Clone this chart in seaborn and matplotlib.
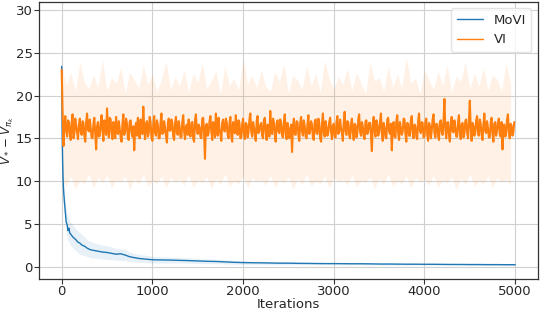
import numpy as np
import pandas as pd
import matplotlib
matplotlib.use("Agg")
import matplotlib.pyplot as plt
import seaborn as sns

# ---------------- data ----------------
movi_iters = ([0, 5, 10, 15, 20, 30, 40, 50, 60, 70, 80, 90, 100, 120, 140, 160, 180, 200,
               225, 250, 275, 300, 325, 350, 375, 400, 450, 500, 550, 600, 650, 700, 750,
               800, 850, 900, 950, 1000] + list(range(1100, 5001, 100)))
movi_mean = [23.4, 16.0, 12.5, 10.4, 9.0, 7.6, 6.4, 5.2, 4.9, 4.2, 4.5, 3.9, 3.8, 3.5, 3.3,
             3.1, 2.85, 2.75, 2.5, 2.4, 2.2, 2.05, 1.95, 1.9, 1.85, 1.8, 1.7, 1.65, 1.55, 1.45,
             1.5, 1.35, 1.15, 1.05, 0.95, 0.9, 0.85, 0.8,
             0.78, 0.76, 0.73, 0.70, 0.66, 0.62, 0.60, 0.55, 0.50, 0.47,
             0.45, 0.44, 0.42, 0.40, 0.40, 0.38, 0.37, 0.36, 0.35, 0.35,
             0.34, 0.33, 0.33, 0.32, 0.30, 0.30, 0.29, 0.28, 0.28, 0.27,
             0.27, 0.26, 0.25, 0.25, 0.24, 0.24, 0.23, 0.23, 0.22, 0.22]
movi_upper = [23.4, 17.5, 14.0, 12.0, 10.5, 9.0, 7.8, 6.8, 6.3, 5.8, 5.7, 5.3, 5.2, 4.9, 4.6,
              4.4, 4.1, 4.0, 3.7, 3.5, 3.2, 3.0, 2.9, 2.8, 2.7, 2.65, 2.5, 2.45, 2.3, 2.15,
              2.1, 2.0, 1.7, 1.55, 1.45, 1.35, 1.3, 1.2,
              1.15, 1.10, 1.05, 1.00, 0.95, 0.90, 0.85, 0.80, 0.72, 0.67,
              0.64, 0.62, 0.60, 0.57, 0.56, 0.53, 0.51, 0.50, 0.48, 0.47,
              0.46, 0.45, 0.44, 0.43, 0.41, 0.41, 0.40, 0.39, 0.38, 0.37,
              0.37, 0.36, 0.35, 0.35, 0.34, 0.34, 0.33, 0.33, 0.32, 0.32]
movi_lower = [23.4, 14.5, 11.0, 8.8, 7.5, 6.2, 5.0, 3.8, 3.5, 2.9, 3.1, 2.6, 2.5, 2.2, 2.0,
              1.85, 1.6, 1.5, 1.35, 1.3, 1.2, 1.1, 1.0, 1.0, 0.98, 0.95, 0.9, 0.85, 0.8, 0.75,
              0.7, 0.7, 0.6, 0.55, 0.5, 0.48, 0.45, 0.42,
              0.41, 0.42, 0.43, 0.40, 0.37, 0.34, 0.35, 0.30, 0.28, 0.27,
              0.26, 0.26, 0.24, 0.23, 0.24, 0.23, 0.23, 0.22, 0.22, 0.23,
              0.22, 0.21, 0.22, 0.21, 0.19, 0.19, 0.18, 0.17, 0.18, 0.17,
              0.17, 0.16, 0.15, 0.15, 0.14, 0.14, 0.13, 0.13, 0.12, 0.12]

vi_iters = list(range(0, 5000, 10))
vi_mean = [
    23.0, 18.2, 14.1, 16.5, 17.6, 15.9, 15.2, 17.1, 16.9, 15.5, 14.8, 16.8, 17.8, 15.0, 15.6, 17.3, 16.4, 15.7, 14.9, 16.6,
    17.3, 15.8, 15.4, 17.0, 16.8, 15.3, 14.6, 16.9, 17.9, 16.0, 15.8, 17.2, 16.2, 15.1, 15.0, 16.7, 17.4, 15.6, 13.7, 16.4,
    16.9, 15.2, 15.3, 16.8, 17.7, 15.9, 14.7, 17.1, 16.6, 15.4, 18.5, 16.2, 15.1, 17.4, 17.2, 15.6, 14.9, 16.9, 16.5, 15.0,
    17.5, 15.7, 15.5, 17.0, 16.1, 15.2, 14.6, 16.6, 17.8, 15.4, 15.9, 17.3, 16.7, 15.0, 14.8, 16.9, 17.1, 15.8, 15.2, 16.4,
    13.6, 16.2, 16.8, 15.3, 17.4, 15.9, 15.0, 17.2, 16.3, 15.5, 18.7, 16.0, 14.9, 16.7, 17.0, 15.2, 15.6, 17.5, 16.9, 15.1,
    14.7, 16.5, 17.6, 15.6, 15.3, 17.1, 16.6, 15.0, 15.0, 16.8, 17.9, 15.5, 15.7, 17.0, 16.2, 15.3, 14.5, 16.6, 17.3, 15.9,
    15.9, 17.2, 16.8, 15.2, 14.8, 16.7, 17.5, 15.6, 15.4, 17.0, 16.4, 15.1, 15.1, 16.9, 17.7, 15.8, 14.9, 16.3, 16.6, 15.4,
    17.2, 15.7, 15.2, 16.8, 16.9, 15.0, 14.6, 17.1, 17.8, 15.9, 15.5, 16.6, 16.3, 15.2, 15.0, 17.3, 17.4, 15.6, 12.6, 16.5,
    16.7, 15.3, 15.6, 17.0, 17.6, 15.8, 14.8, 16.9, 16.5, 15.1, 17.9, 16.2, 15.3, 17.4, 16.1, 15.5, 14.7, 16.8, 17.2, 15.9,
    15.8, 17.3, 16.9, 15.4, 15.0, 16.7, 17.5, 15.2, 14.6, 16.9, 16.4, 15.6, 17.7, 15.9, 15.4, 17.1, 16.8, 15.0, 15.1, 16.6,
    17.3, 15.5, 14.9, 16.8, 16.6, 15.1, 15.7, 17.2, 17.9, 15.8, 15.2, 16.9, 16.3, 15.4, 14.7, 17.0, 17.6, 15.6, 15.9, 16.5,
    16.8, 15.3, 15.0, 17.1, 17.4, 15.7, 14.8, 16.6, 16.5, 15.2, 18.2, 16.0, 15.5, 17.3, 16.9, 15.4, 14.6, 16.7, 17.1, 15.8,
    15.6, 17.2, 16.7, 15.3, 15.1, 16.9, 17.8, 15.6, 14.9, 16.8, 16.2, 15.0, 15.8, 16.6, 13.4, 16.3, 17.3, 15.5, 15.4, 17.0,
    16.9, 15.4, 14.7, 16.8, 17.5, 15.8, 15.3, 17.1, 16.4, 15.2, 15.0, 16.7, 17.7, 15.5, 15.9, 17.0, 16.6, 15.1, 14.8, 16.9,
    17.2, 15.6, 15.5, 17.3, 16.8, 15.0, 14.6, 16.6, 17.9, 15.7, 15.2, 17.0, 16.3, 15.3, 15.7, 16.9, 17.4, 15.8, 14.9, 16.4,
    16.7, 15.2, 15.1, 16.9, 17.6, 15.5, 15.8, 17.2, 16.2, 15.6, 14.7, 16.8, 18.1, 15.9, 15.4, 17.0, 16.9, 15.3, 15.0, 16.6,
    17.3, 15.7, 14.8, 16.7, 16.5, 15.1, 15.6, 17.2, 17.8, 15.8, 15.3, 16.9, 16.4, 15.2, 14.9, 17.0, 17.1, 15.5, 15.9, 16.8,
    16.8, 15.4, 13.5, 16.6, 17.5, 15.9, 15.2, 17.1, 16.6, 15.3, 15.7, 16.9, 17.9, 15.6, 14.7, 16.8, 16.3, 15.1, 15.0, 17.2,
    17.4, 15.8, 15.5, 16.7, 13.6, 16.4, 16.9, 15.2, 15.1, 17.0, 17.7, 15.6, 14.8, 16.9, 16.2, 15.4, 15.8, 17.3, 17.2, 15.5,
    14.6, 16.8, 16.7, 15.3, 15.3, 17.1, 17.6, 15.7, 15.0, 16.6, 16.4, 15.2, 14.9, 17.0, 17.9, 15.9, 15.6, 16.9, 16.8, 15.1,
    15.2, 16.9, 17.3, 15.5, 14.7, 16.8, 16.5, 15.0, 15.9, 17.2, 17.8, 15.6, 15.1, 16.7, 16.6, 15.3, 14.8, 16.9, 17.1, 15.8,
    15.4, 17.0, 19.6, 16.1, 15.0, 16.8, 16.9, 15.3, 14.6, 16.7, 17.5, 15.8, 15.7, 17.1, 16.3, 15.2, 15.2, 16.9, 17.7, 15.6,
    14.9, 16.6, 16.8, 15.1, 15.5, 17.0, 17.2, 15.7, 15.0, 16.9, 19.4, 16.2, 14.7, 16.8, 16.4, 15.3, 15.8, 17.1, 17.6, 15.5,
    15.3, 17.2, 16.7, 15.4, 14.8, 16.6, 17.9, 15.9, 15.6, 17.0, 16.2, 15.1, 15.1, 16.8, 17.4, 15.6, 14.6, 16.7, 16.9, 15.3,
    15.9, 16.8, 17.3, 15.5, 15.2, 16.9, 13.7, 16.4, 16.6, 15.2, 15.4, 17.1, 17.8, 15.8, 15.0, 16.7, 16.5, 15.3, 15.7, 16.9]

vi_band_iters = list(range(0, 5000, 50))
vi_upper = [23.5, 21.2, 22.8, 20.4, 23.9, 21.6, 20.8, 22.4, 21.0, 24.2,
            20.6, 22.1, 21.4, 23.3, 20.3, 22.7, 21.8, 20.9, 23.6, 21.3,
            22.5, 20.5, 21.9, 24.0, 20.7, 22.2, 21.1, 23.0, 20.4, 22.6,
            21.5, 23.8, 20.8, 21.7, 22.9, 20.2, 23.4, 21.2, 22.0, 20.6,
            24.3, 21.4, 22.3, 20.9, 23.1, 21.0, 20.5, 22.8, 21.6, 23.7,
            20.3, 22.4, 21.8, 20.7, 23.5, 21.1, 22.6, 20.4, 24.1, 21.9,
            20.8, 22.2, 21.3, 23.2, 20.6, 22.7, 21.5, 20.2, 23.9, 21.7,
            22.1, 20.5, 23.4, 21.0, 22.5, 20.9, 24.4, 21.4, 22.0, 20.3,
            23.0, 21.8, 20.7, 22.9, 21.2, 23.6, 20.4, 22.3, 21.6, 24.0,
            20.8, 22.6, 21.1, 23.3, 20.6, 22.4, 21.9, 20.5, 23.8, 21.3]
vi_lower = [10.2, 9.4, 10.6, 9.1, 10.0, 9.7, 10.8, 9.3, 10.4, 9.8,
            10.7, 9.2, 10.1, 9.9, 10.5, 9.0, 10.3, 9.6, 10.8, 9.4,
            10.0, 9.7, 10.6, 9.2, 10.4, 9.9, 10.2, 9.5, 10.7, 9.3,
            10.1, 9.8, 10.5, 9.1, 10.3, 9.6, 10.8, 9.4, 10.0, 9.7,
            10.6, 9.2, 10.4, 9.9, 10.2, 9.5, 10.7, 9.3, 10.1, 9.8,
            10.5, 9.0, 10.3, 9.6, 10.8, 9.4, 10.0, 9.7, 10.6, 9.2,
            10.4, 9.9, 10.2, 9.5, 10.7, 9.3, 10.1, 9.8, 10.5, 9.1,
            10.3, 9.6, 10.8, 9.4, 10.0, 9.7, 10.6, 9.2, 10.4, 9.9,
            10.2, 9.5, 10.7, 9.3, 10.1, 9.8, 10.5, 9.0, 10.3, 9.6,
            10.8, 9.4, 10.0, 9.7, 10.6, 9.2, 10.4, 9.9, 10.2, 9.5]

methods = ["MoVI", "VI"]
colors = {"MoVI": "#1f77b4", "VI": "#ff7f0e"}

# ---------------- plot ----------------
sns.set_style("ticks")
plt.rcParams["font.family"] = ["DejaVu Sans"]
plt.rcParams["path.simplify"] = False

df = pd.concat([
    pd.DataFrame({"Iterations": movi_iters, "value": movi_mean, "method": "MoVI"}),
    pd.DataFrame({"Iterations": vi_iters, "value": vi_mean, "method": "VI"}),
])

fig, ax = plt.subplots(figsize=(5.4, 3.1), dpi=100)
fig.subplots_adjust(left=39 / 540, right=0.996, top=0.994, bottom=0.1)

ax.fill_between(vi_band_iters, vi_lower, vi_upper, color=colors["VI"], alpha=0.1, lw=0)
ax.fill_between(movi_iters, movi_lower, movi_upper, color=colors["MoVI"], alpha=0.1, lw=0)

sns.lineplot(data=df, x="Iterations", y="value", hue="method", hue_order=methods,
             palette=colors, estimator=None, lw=1.0, ax=ax)
# heavier stroke for the dense VI trace
ax.get_lines()[1].set_linewidth(1.5)

ax.set_xlim(-250, 5250)
ax.set_ylim(-1.45, 30.95)
ax.set_xticks([0, 1000, 2000, 3000, 4000, 5000])
ax.set_yticks([0, 5, 10, 15, 20, 25, 30])
ax.grid(True, color="#d0d0d0", lw=0.8)
ax.set_axisbelow(True)
for s in ax.spines.values():
    s.set_color("#333333")
    s.set_linewidth(0.9)
ax.tick_params(labelsize=9.5, length=3.5, width=0.8, color="#333333", pad=1)
ax.set_xlabel("Iterations", fontsize=9.5, labelpad=0)
ax.set_ylabel(r"$V_* - V_{\pi_k}$", fontsize=8.5)
ax.yaxis.set_label_coords(-0.046, 0.5)

leg = ax.legend(loc="upper right", fontsize=9.5, frameon=True, fancybox=True,
                handlelength=2.0, borderaxespad=0.5)
leg.get_frame().set_edgecolor("#dddddd")
for h in leg.get_lines():
    h.set_linewidth(1.0)

fig.savefig("out.png", dpi=100)
